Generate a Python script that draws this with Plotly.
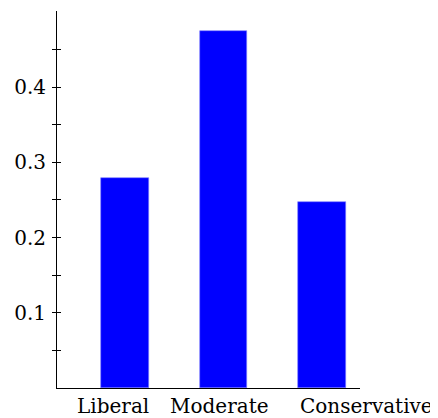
import plotly.graph_objects as go

categories = ["Liberal", "Moderate", "Conservative"]
values = [0.279, 0.474, 0.247]
tick_vals = [0.05, 0.1, 0.15, 0.2, 0.25, 0.3, 0.35, 0.4, 0.45]
tick_text = ["", "0.1", "", "0.2", "", "0.3", "", "0.4", ""]
label_shifts = [-12, -4, 45]

FONT = dict(family="DejaVu Serif", size=20, color="black")

fig = go.Figure()
fig.add_trace(go.Bar(
    x=categories, y=values, width=0.485,
    marker=dict(color="#0000ff", line=dict(color="#8080ff", width=0.6)),
    showlegend=False, hoverinfo="skip",
))
# invisible trace to activate overlay axis
fig.add_trace(go.Scatter(x=[categories[0]], y=[0], yaxis="y2", mode="markers",
                         marker=dict(opacity=0), showlegend=False, hoverinfo="skip"))

yr = [0, 0.501]
fig.update_layout(
    width=430, height=410,
    margin=dict(l=49, r=78, t=3, b=30, autoexpand=False),
    paper_bgcolor="white", plot_bgcolor="white",
    font=FONT,
    bargap=0,
    xaxis=dict(type="category", range=[-0.695, 2.39], showline=True, linecolor="black",
               linewidth=1, showgrid=False, zeroline=False, showticklabels=False, ticks=""),
    yaxis=dict(range=yr, showline=True, linecolor="black", linewidth=1, showgrid=False,
               zeroline=False, tickmode="array", tickvals=tick_vals, ticktext=tick_text,
               ticks="outside", ticklen=4, tickwidth=1, tickcolor="black",
               tickfont=FONT, ticklabelstandoff=2),
    yaxis2=dict(range=yr, overlaying="y", side="left", showline=False, showgrid=False,
                zeroline=False, tickmode="array", tickvals=tick_vals,
                showticklabels=False, ticks="inside", ticklen=4, tickwidth=1,
                tickcolor="black"),
)

for cat, dx in zip(categories, label_shifts):
    fig.add_annotation(x=cat, xref="x", y=0, yref="paper", yanchor="top",
                       text=cat, showarrow=False, font=FONT, xshift=dx, yshift=-4)

fig.write_html("out.html")
